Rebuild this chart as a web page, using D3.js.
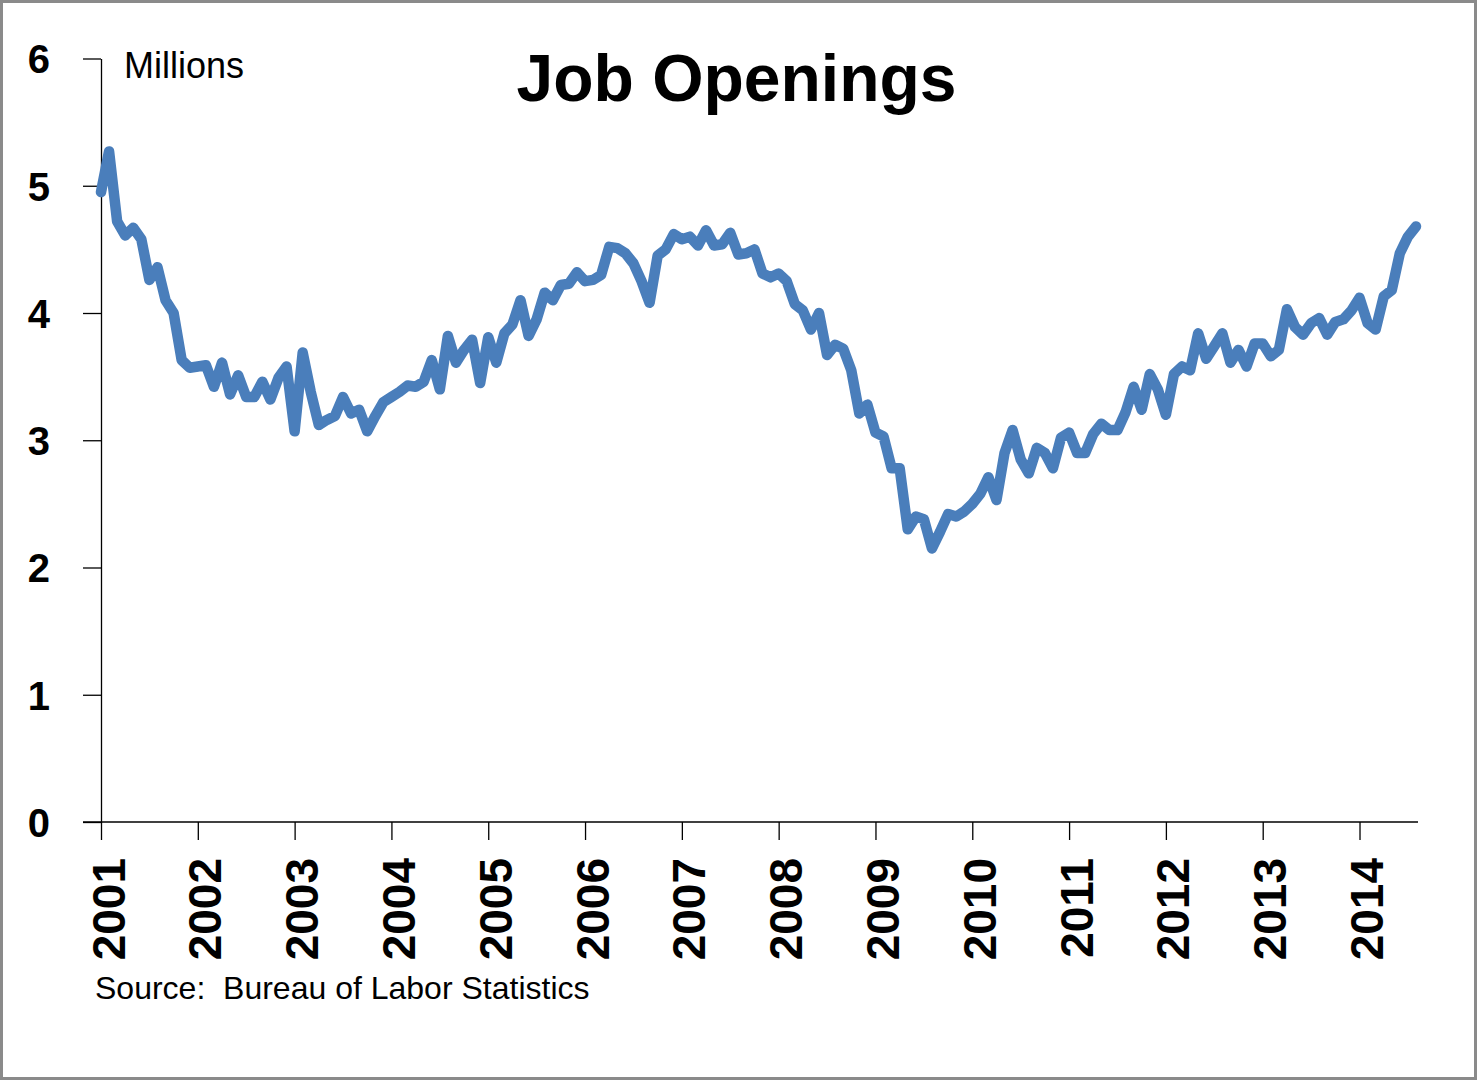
<!DOCTYPE html>
<html>
<head>
<meta charset="utf-8">
<script src="https://cdn.jsdelivr.net/npm/d3@7"></script>
<style>
  html, body { margin: 0; padding: 0; background: #fff; }
  svg { display: block; }
  text { font-family: "Liberation Sans", Arial, sans-serif; fill: #000; }
</style>
</head>
<body>
<svg id="chart" width="1477" height="1080"></svg>
<script>
// ---- data (monthly, Job Openings in millions) ----
const startYear = 2001;
const yearLabels = ["2001","2002","2003","2004","2005","2006","2007","2008","2009","2010","2011","2012","2013","2014"];
const yTicks = [0, 1, 2, 3, 4, 5, 6];
const jobOpenings = [
  4.95, 5.27, 4.72, 4.61, 4.67, 4.58, 4.26, 4.36, 4.10, 4.00, 3.63, 3.57,
  3.58, 3.59, 3.42, 3.61, 3.36, 3.51, 3.34, 3.34, 3.46, 3.32, 3.49, 3.58,
  3.07, 3.69, 3.38, 3.12, 3.16, 3.19, 3.34, 3.21, 3.24, 3.07, 3.19, 3.30,
  3.34, 3.38, 3.43, 3.42, 3.46, 3.63, 3.40, 3.82, 3.61, 3.71, 3.79, 3.45,
  3.81, 3.61, 3.84, 3.91, 4.10, 3.82, 3.95, 4.16, 4.10, 4.22, 4.23, 4.32,
  4.25, 4.26, 4.30, 4.52, 4.51, 4.47, 4.39, 4.25, 4.08, 4.45, 4.50, 4.62,
  4.58, 4.60, 4.53, 4.65, 4.53, 4.54, 4.63, 4.46, 4.47, 4.50, 4.31, 4.28,
  4.31, 4.25, 4.07, 4.02, 3.87, 4.00, 3.67, 3.75, 3.72, 3.55, 3.21, 3.28,
  3.06, 3.03, 2.78, 2.78, 2.30, 2.40, 2.38, 2.15, 2.28, 2.42, 2.40, 2.44,
  2.50, 2.58, 2.71, 2.53, 2.90, 3.08, 2.85, 2.74, 2.94, 2.90, 2.78, 3.02,
  3.06, 2.90, 2.90, 3.05, 3.13, 3.08, 3.08, 3.22, 3.42, 3.24, 3.52, 3.40,
  3.20, 3.52, 3.58, 3.55, 3.84, 3.64, 3.74, 3.84, 3.61, 3.71, 3.58, 3.76,
  3.76, 3.66, 3.71, 4.03, 3.89, 3.83, 3.92, 3.96, 3.83, 3.93, 3.95, 4.02,
  4.12, 3.92, 3.87, 4.13, 4.18, 4.47, 4.60, 4.68
];
const titleText = "Job Openings";
const unitText = "Millions";
const sourceText = "Source:  Bureau of Labor Statistics";

// ---- layout ----
const svg = d3.select("#chart");
const W = 1477, H = 1080;
const plot = { left: 101, right: 1418, top: 58.5, bottom: 822 };

svg.append("rect")
  .attr("x", 1.5).attr("y", 1.5)
  .attr("width", W - 3).attr("height", H - 3)
  .attr("fill", "#fff").attr("stroke", "#8a8a8a").attr("stroke-width", 3);

const x = d3.scaleLinear().domain([0, 163.25]).range([plot.left, plot.right]);
const y = d3.scaleLinear().domain([0, 6]).range([plot.bottom, plot.top]);

// y axis
const yAxis = d3.axisLeft(y).tickValues(yTicks).tickSize(18).tickSizeOuter(0).tickFormat(d3.format("d"));
const gy = svg.append("g").attr("transform", `translate(${plot.left},0)`).call(yAxis);
gy.select(".domain").attr("stroke", "#000").attr("stroke-width", 1.3);
gy.selectAll(".tick line").attr("stroke", "#000").attr("stroke-width", 1.3);
gy.selectAll(".tick text")
  .attr("x", -51)
  .attr("dy", "0.36em")
  .style("font-size", "40px")
  .style("font-weight", "bold")
  .style("font-family", "'Liberation Sans', Arial, sans-serif")
  .attr("fill", "#000");

// x axis (year ticks every 12 months)
const xTickVals = yearLabels.map((_, i) => i * 12);
const xAxis = d3.axisBottom(x).tickValues(xTickVals).tickSize(18).tickSizeOuter(0)
  .tickFormat((d, i) => yearLabels[i]);
const gx = svg.append("g").attr("transform", `translate(0,${plot.bottom})`).call(xAxis);
gx.select(".domain").attr("stroke", "#000").attr("stroke-width", 1.3)
  .attr("d", `M${plot.left - 18},0H${plot.right}`);
gx.selectAll(".tick line").attr("stroke", "#000").attr("stroke-width", 1.3);
gx.selectAll(".tick text")
  .attr("x", 0).attr("y", 0).attr("dy", null)
  .attr("text-anchor", "end")
  .attr("transform", "translate(23,36) rotate(-90)")
  .style("font-size", "46px")
  .style("font-weight", "bold")
  .style("font-family", "'Liberation Sans', Arial, sans-serif")
  .attr("fill", "#000");

// line
const line = d3.line()
  .x((d, i) => x(i))
  .y(d => y(d));
svg.append("path")
  .datum(jobOpenings)
  .attr("d", line)
  .attr("fill", "none")
  .attr("stroke", "#4a7ebb")
  .attr("stroke-width", 10.5)
  .attr("stroke-linejoin", "round")
  .attr("stroke-linecap", "round");

// texts
svg.append("text")
  .attr("x", 736.5).attr("y", 101)
  .attr("text-anchor", "middle")
  .style("font-size", "66px").style("font-weight", "bold")
  .text(titleText);

svg.append("text")
  .attr("x", 124).attr("y", 78)
  .style("font-size", "36px")
  .text(unitText);

svg.append("text")
  .attr("x", 95).attr("y", 999)
  .style("font-size", "32px")
  .style("white-space", "pre")
  .attr("xml:space", "preserve")
  .text(sourceText);
</script>
</body>
</html>
